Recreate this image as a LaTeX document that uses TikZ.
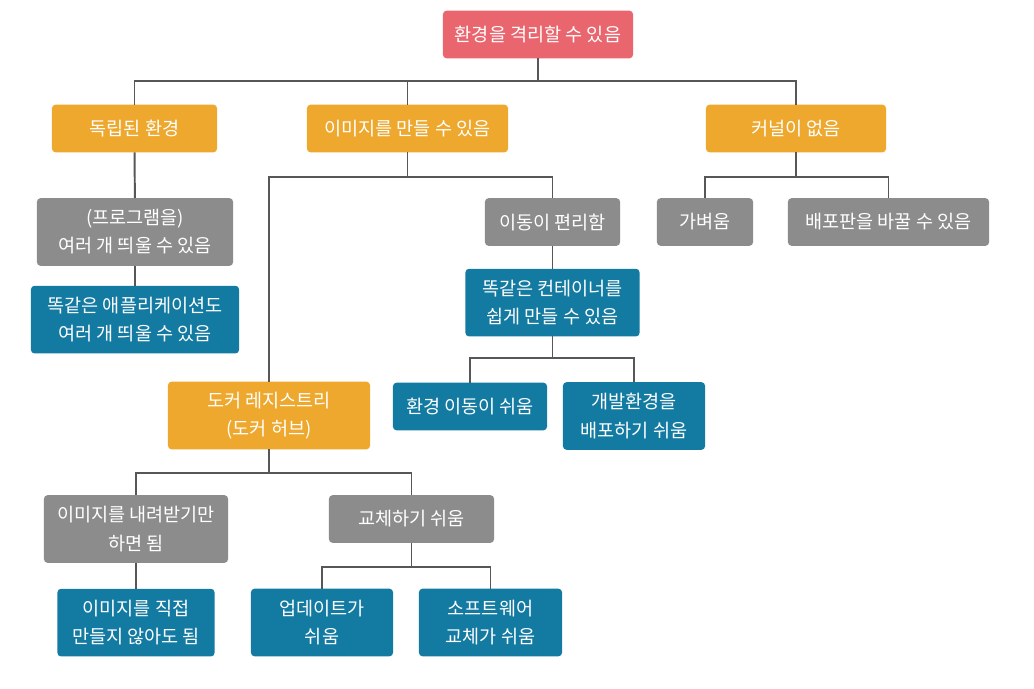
\documentclass[tikz,border=0pt]{standalone}
\usepackage{fontspec}
\setmainfont{Noto Sans CJK KR}
\usetikzlibrary{positioning}
\definecolor{rootred}{HTML}{E9666F}
\definecolor{topic}{HTML}{EDA82D}
\definecolor{point}{HTML}{8C8C8C}
\definecolor{gain}{HTML}{137AA2}
\definecolor{wire}{HTML}{575757}
\begin{document}
\begin{tikzpicture}[x=0.025cm,y=-0.025cm,every node/.style={font=\fontsize{13.2}{20}\selectfont,text=white},box/.style={rounded corners=2.5pt,align=center,inner sep=0pt,outer sep=0pt,minimum height=1.19cm},tall/.style={box,minimum height=1.69cm},link/.style={draw=wire,line width=1.4pt}]
\fill[white] (0,0) rectangle (1034,689);
\useasboundingbox (0,0) rectangle (1034,689);
\node[box,fill=rootred,minimum width=4.75cm] (root) at (538,34.5) {환경을 격리할 수 있음};
\node[box,fill=topic,minimum width=4.125cm] (indep) at (134.5,128.5) {독립된 환경};
\node[box,fill=topic,minimum width=5.025cm] (mkimg) at (407.5,128.5) {이미지를 만들 수 있음};
\node[box,fill=topic,minimum width=4.5cm] (nokern) at (796,128.5) {커널이 없음};
\node[tall,fill=point,minimum width=4.9cm] (multi) at (135,232) {(프로그램을)\\여러 개 띄울 수 있음};
\node[tall,fill=gain,minimum width=5.2cm,below=0.5cm of multi] (sameapp) {똑같은 애플리케이션도\\여러 개 띄울 수 있음};
\node[box,fill=point,minimum width=3.375cm] (move) at (552.5,222) {이동이 편리함};
\node[box,fill=point,minimum width=2.4cm] (light) at (705,222) {가벼움};
\node[box,fill=point,minimum width=5.025cm] (distro) at (888.5,222) {배포판을 바꿀 수 있음};
\node[tall,fill=gain,minimum width=4.35cm,below=0.575cm of move] (samect) {똑같은 컨테이너를\\쉽게 만들 수 있음};
\node[box,fill=gain,minimum width=3.85cm] (envmove) at (470,406.5) {환경 이동이 쉬움};
\node[tall,fill=gain,minimum width=3.55cm] (devenv) at (634,416) {개발환경을\\배포하기 쉬움};
\node[tall,fill=topic,minimum width=5.05cm] (registry) at (269,415.5) {도커 레지스트리\\(도커 허브)};
\node[tall,fill=point,minimum width=4.6cm] (pull) at (136,529) {이미지를 내려받기만\\하면 됨};
\node[box,fill=point,minimum width=4.125cm] (swap) at (411.5,519) {교체하기 쉬움};
\node[tall,fill=gain,minimum width=3.925cm,below=0.65cm of pull] (nobuild) {이미지를 직접\\만들지 않아도 됨};
\node[tall,fill=gain,minimum width=3.55cm] (update) at (322,622.5) {업데이트가\\쉬움};
\node[tall,fill=gain,minimum width=3.575cm] (sw) at (490.5,622.5) {소프트웨어\\교체가 쉬움};
% tree lines
\draw[link] (root.south) -- ++(0,23) -| (indep.north);
\draw[link] (root.south) -- ++(0,23) -| (mkimg.north);
\draw[link] (root.south) -- ++(0,23) -| (nokern.north);
\draw[link] (indep) -- (multi);
\draw[link] (multi) -- (sameapp);
\draw[link] (mkimg.south) -- ++(0,25) -| (registry.north);
\draw[link] (mkimg.south) -- ++(0,25) -| (move.north);
\draw[link] (nokern.south) -- ++(0,25) -| (light.north);
\draw[link] (nokern.south) -- ++(0,25) -| (distro.north);
\draw[link] (move) -- (samect);
\draw[link] (samect.south) -- ++(0,22) -| (envmove.north);
\draw[link] (samect.south) -- ++(0,22) -| (devenv.north);
\draw[link] (registry.south) -- ++(0,24) -| (pull.north);
\draw[link] (registry.south) -- ++(0,24) -| (swap.north);
\draw[link] (pull) -- (nobuild);
\draw[link] (swap.south) -- ++(0,24) -| (update.north);
\draw[link] (swap.south) -- ++(0,24) -| (sw.north);
\end{tikzpicture}
\end{document}
